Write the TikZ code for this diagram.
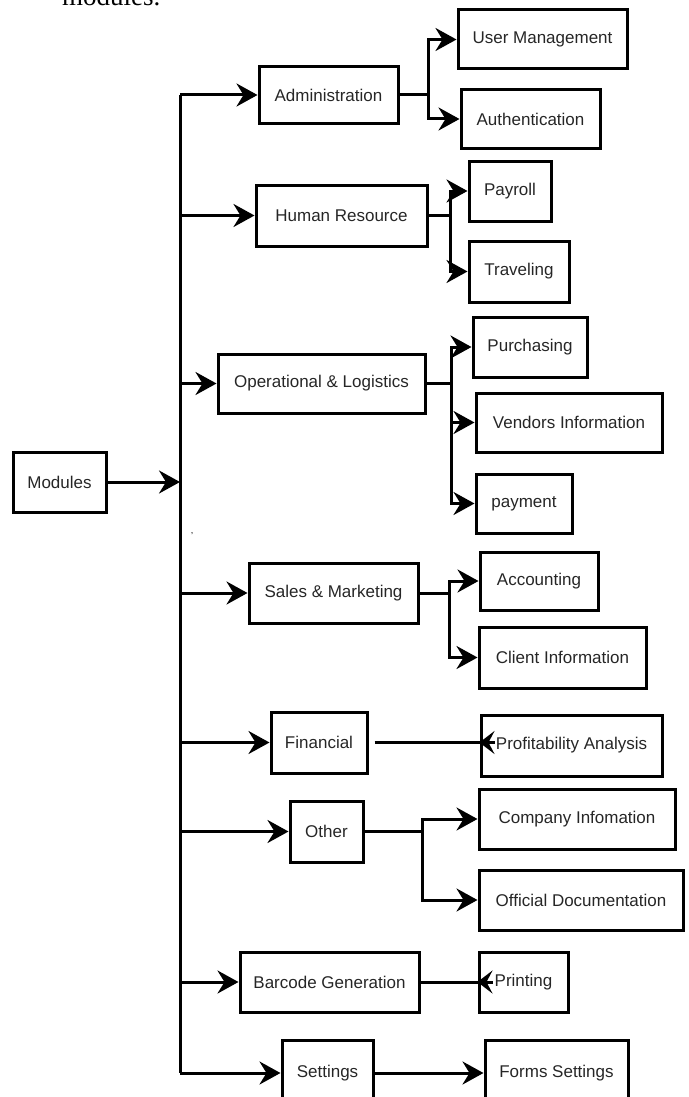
\documentclass[tikz,border=0pt]{standalone}
\usepackage{fontspec}
\setmainfont{Liberation Sans}
\newfontfamily\serifdoc{Liberation Serif}
\usetikzlibrary{arrows.meta}
\begin{document}
\begin{tikzpicture}[x=1pt,y=-1pt,
  box/.style={draw, line width=3pt, inner sep=0pt, text=black!85,
              font=\fontsize{17}{20}\selectfont},
  sz/.style 2 args={minimum width=#1pt, minimum height=#2pt},
  ln/.style={line width=3pt},
  arr/.style={line width=3pt, -{Stealth[length=21pt,width=23pt,inset=7pt]}},
  rtip/.style={line width=3pt, {Stealth[length=15pt,width=23pt,inset=6pt]}-}]
\useasboundingbox (0,0) rectangle (688,1097);

\node[font=\serifdoc\fontsize{27}{30}\selectfont, anchor=base west, inner sep=0pt] (cap) at (62,6) {modules.};
\node[font=\fontsize{9}{10}\selectfont, inner sep=0pt] (cm) at (192,534) {,};

% level 0
\node[box, sz={93}{60}] (mod) at (59.5,482) {Modules};

% level 1
\node[box, sz={139}{57}] (adm) at (328.5,95) {Administration};
\node[box, sz={171}{61}] (hr)  at (341.5,215.5) {Human Resource};
\node[box, sz={207}{59}] (ops) at (321.5,383.5) {Operational \& Logistics};
\node[box, sz={169}{60}] (sal) at (333.5,593) {Sales \& Marketing};
\node[box, sz={96}{61}]  (fin) at (319,742.5) {Financial};
\node[box, sz={73}{61}]  (oth) at (326.5,831.5) {Other};
\node[box, sz={179}{60}] (bar) at (329.5,982) {Barcode Generation};
\node[box, sz={91}{66}]  (set) at (327.5,1073) {Settings};

% level 2
\node[box, sz={169}{59}] (um)   at (542.5,39.5) {User Management};
\node[box, sz={139}{58}] (auth) at (530.5,119) {Authentication};
\node[box, sz={82}{60}]  (pay)  at (510,191) {Payroll};
\node[box, sz={100}{61}] (trv)  at (519,271.5) {Traveling};
\node[box, sz={114}{60}] (pur)  at (530,347) {Purchasing};
\node[box, sz={186}{59}] (ven)  at (569,422.5) {Vendors Information};
\node[box, sz={96}{59}]  (pmt)  at (524,503.5) {payment};
\node[box, sz={118}{58}] (acc)  at (539,581) {Accounting};
\node[box, sz={167}{61}] (cli)  at (562.5,657.5) {Client Information};
\node[box, sz={181}{61}] (prof) at (571.5,745.5) {Profitability Analysis};
\node[box, sz={196}{60}] (com)  at (577,819) {Company Infomation};
\node[box, sz={204}{60}] (off)  at (581,900) {Official Documentation};
\node[box, sz={89}{60}]  (prt)  at (523.5,982) {Printing};
\node[box, sz={143}{66}] (fs)   at (556.5,1073) {Forms Settings};

% trunk
\coordinate (ttop) at (180,95);
\coordinate (tbot) at (180,1073);
\draw[ln] (ttop) -- (tbot);
\draw[arr] (mod.east) -- (mod.east -| ttop);

\foreach \n in {adm,hr,ops,sal,fin,oth,bar,set}
  \draw[arr] (ttop |- \n.west) -- (\n.west);

% sub-branches
\draw[arr] (adm.east) -- ++(29,0) |- (um.west);
\draw[arr] (adm.east) -- ++(29,0) |- (auth.west);
\draw[arr] (hr.east) -- ++(22,0) |- (pay.west);
\draw[arr] (hr.east) -- ++(22,0) |- (trv.west);
\draw[arr] (ops.east) -- ++(25,0) |- (pur.west);
\draw[arr] (ops.east) -- ++(25,0) |- (ven.west);
\draw[arr] (ops.east) -- ++(25,0) |- (pmt.west);
\draw[arr] (sal.east) -- ++(30,0) |- (acc.west);
\draw[arr] (sal.east) -- ++(30,0) |- (cli.west);
\draw[arr] (oth.east) -- ++(58,0) |- (com.west);
\draw[arr] (oth.east) -- ++(58,0) |- (off.west);
\draw[arr] (set.east) -- (fs.west);

\draw[ln, shorten <=6pt] (fin.east) -- (fin.east -| prof.west);
\draw[rtip] (fin.east -| prof.west) -- ++(15,0);
\draw[ln] (bar.east) -- (prt.west);
\draw[rtip] (prt.west) -- ++(15,0);
\end{tikzpicture}
\end{document}
